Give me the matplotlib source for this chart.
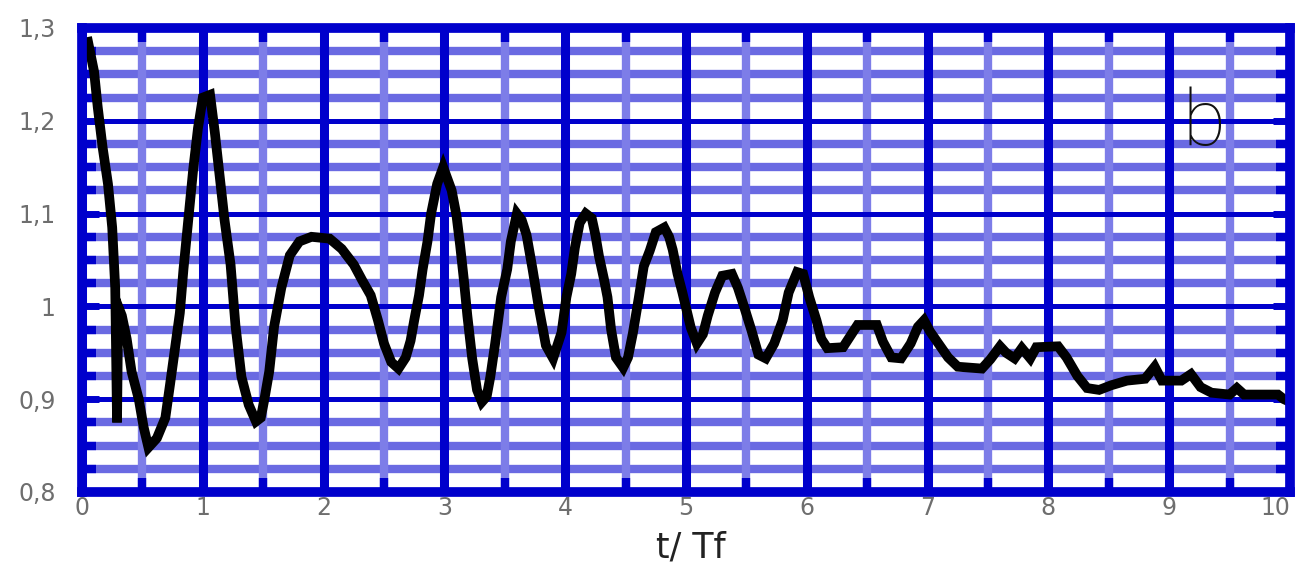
import numpy as np
import matplotlib
matplotlib.use("Agg")
import matplotlib.pyplot as plt

# t / Tf and response
t = [0.05, 0.10, 0.13, 0.17, 0.215, 0.25, 0.275, 0.29, 0.30, 0.33, 0.37, 0.41, 0.47,
     0.51, 0.55, 0.62, 0.69, 0.73, 0.77, 0.81, 0.84, 0.88, 0.92, 0.96, 1.00, 1.06,
     1.10, 1.14, 1.18, 1.23, 1.27, 1.32, 1.38, 1.44, 1.48, 1.51, 1.55, 1.59, 1.65,
     1.72, 1.80, 1.90, 2.05, 2.15, 2.25, 2.32, 2.39, 2.45, 2.50, 2.56, 2.62, 2.68,
     2.72, 2.75, 2.79, 2.82, 2.86, 2.89, 2.94, 2.99, 3.06, 3.10, 3.13, 3.16, 3.19,
     3.23, 3.27, 3.31, 3.35, 3.38, 3.42, 3.47, 3.52, 3.55, 3.60, 3.64, 3.68, 3.73,
     3.78, 3.84, 3.90, 3.97, 4.01, 4.05, 4.08, 4.12, 4.17, 4.22, 4.25, 4.28, 4.32,
     4.35, 4.38, 4.42, 4.48, 4.52, 4.56, 4.61, 4.65, 4.70, 4.75, 4.82, 4.86, 4.89,
     4.93, 4.97, 5.04, 5.09, 5.14, 5.18, 5.24, 5.30, 5.38, 5.43, 5.48, 5.54, 5.60,
     5.66, 5.73, 5.80, 5.85, 5.92, 5.97, 6.02, 6.08, 6.12, 6.17, 6.30, 6.36, 6.42,
     6.58, 6.63, 6.70, 6.78, 6.86, 6.92, 6.97, 7.02, 7.10, 7.17, 7.25, 7.45, 7.52,
     7.60, 7.65, 7.72, 7.78, 7.85, 7.90, 8.08, 8.15, 8.24, 8.32, 8.42, 8.52, 8.65,
     8.80, 8.88, 8.94, 9.10, 9.18, 9.26, 9.35, 9.50, 9.56, 9.62, 9.75, 9.90, 9.95,
     10.0]
y = [1.285, 1.253, 1.215, 1.172, 1.132, 1.085, 1.02, 0.875, 1.00, 0.99, 0.965, 0.93, 0.90,
     0.87, 0.848, 0.858, 0.88, 0.917, 0.955, 0.993, 1.04, 1.093, 1.147, 1.192, 1.225, 1.228,
     1.187, 1.14, 1.093, 1.045, 0.98, 0.924, 0.894, 0.876, 0.88, 0.90, 0.93, 0.978, 1.02,
     1.055, 1.07, 1.075, 1.073, 1.062, 1.045, 1.028, 1.012, 0.985, 0.96, 0.94, 0.933, 0.945,
     0.963, 0.985, 1.012, 1.04, 1.07, 1.10, 1.132, 1.15, 1.125, 1.098, 1.066, 1.03, 0.99,
     0.944, 0.91, 0.897, 0.903, 0.924, 0.96, 1.01, 1.04, 1.07, 1.10, 1.093, 1.077, 1.04,
     1.00, 0.958, 0.944, 0.972, 1.01, 1.035, 1.063, 1.09, 1.10, 1.095, 1.077, 1.054, 1.03,
     1.01, 0.975, 0.945, 0.934, 0.945, 0.971, 1.01, 1.043, 1.06, 1.08, 1.085, 1.075, 1.061,
     1.035, 1.015, 0.977, 0.96, 0.97, 0.99, 1.015, 1.033, 1.035, 1.02, 1.00, 0.975, 0.948,
     0.944, 0.96, 0.985, 1.015, 1.037, 1.035, 1.01, 0.985, 0.965, 0.955, 0.956, 0.968, 0.98,
     0.98, 0.962, 0.945, 0.944, 0.96, 0.978, 0.985, 0.973, 0.958, 0.945, 0.935, 0.933, 0.943,
     0.957, 0.95, 0.944, 0.955, 0.944, 0.956, 0.957, 0.945, 0.925, 0.912, 0.91, 0.915, 0.92,
     0.922, 0.935, 0.92, 0.92, 0.927, 0.913, 0.907, 0.905, 0.912, 0.905, 0.905, 0.905, 0.90,
     0.897]

x_ticks = [0, 1, 2, 3, 4, 5, 6, 7, 8, 9, 10]
y_ticks = [0.8, 0.9, 1.0, 1.1, 1.2, 1.3]
y_ticklabels = ['0,8', '0,9', '1', '1,1', '1,2', '1,3']

DARK = '#0000cc'
LIGHT_H = '#6a6ae2'
LIGHT_V = '#7d7de8'

fig = plt.figure(figsize=(13.01, 5.64), dpi=100)
ax = fig.add_axes([82 / 1301, 72 / 564, 1208 / 1301, 464 / 564])
ax.set_xlim(0, 10)
ax.set_ylim(0.8, 1.3)

minor_x = np.arange(0.5, 10, 1.0)
minor_y = [v for v in np.arange(0.8, 1.3001, 0.025) if abs(v * 10 - round(v * 10)) > 1e-6]

# grid, drawn by hand so the light lines sit under the dark ones
for v in minor_y:
    ax.axhline(v, color=LIGHT_H, lw=6, zorder=1.0)
for v in minor_x:
    ax.axvline(v, color=LIGHT_V, lw=6, zorder=1.1)
for v in y_ticks:
    ax.axhline(v, color=DARK, lw=3.6, zorder=1.2)
for v in x_ticks:
    ax.axvline(v, color=DARK, lw=6.5, zorder=1.3)

ax.plot(t, y, color='black', lw=7, zorder=3, solid_joinstyle='miter')

for s in ax.spines.values():
    s.set_color(DARK)
    s.set_linewidth(7)
    s.set_zorder(4)

ax.set_xticks(x_ticks)
ax.set_xticklabels([str(v) for v in x_ticks])
ax.set_yticks(y_ticks)
ax.set_yticklabels(y_ticklabels)
ax.set_xticks(minor_x, minor=True)
ax.set_yticks(minor_y, minor=True)
ax.tick_params(which='both', direction='in', color=DARK, top=True, right=True)
ax.tick_params(axis='x', which='major', length=0, pad=3, labelsize=17, labelcolor='#6e6e6e')
ax.tick_params(axis='y', which='major', length=12, width=5, pad=19, labelsize=17,
               labelcolor='#6e6e6e')
ax.tick_params(which='minor', length=10, width=6)
# last x label would run past the right edge of the figure
ax.get_xticklabels()[-1].set_horizontalalignment('right')

ax.set_xlabel('t/ Tf', fontsize=25, color='#222222')
ax.xaxis.set_label_coords(0.504, -0.142)
ax.xaxis.label.set_va('baseline')

ax.text(9.29, 1.174, 'b', fontsize=56, family='Roboto', fontweight='light',
        ha='center', va='baseline', color='#111111', zorder=5)

fig.savefig('out.png', dpi=100)
